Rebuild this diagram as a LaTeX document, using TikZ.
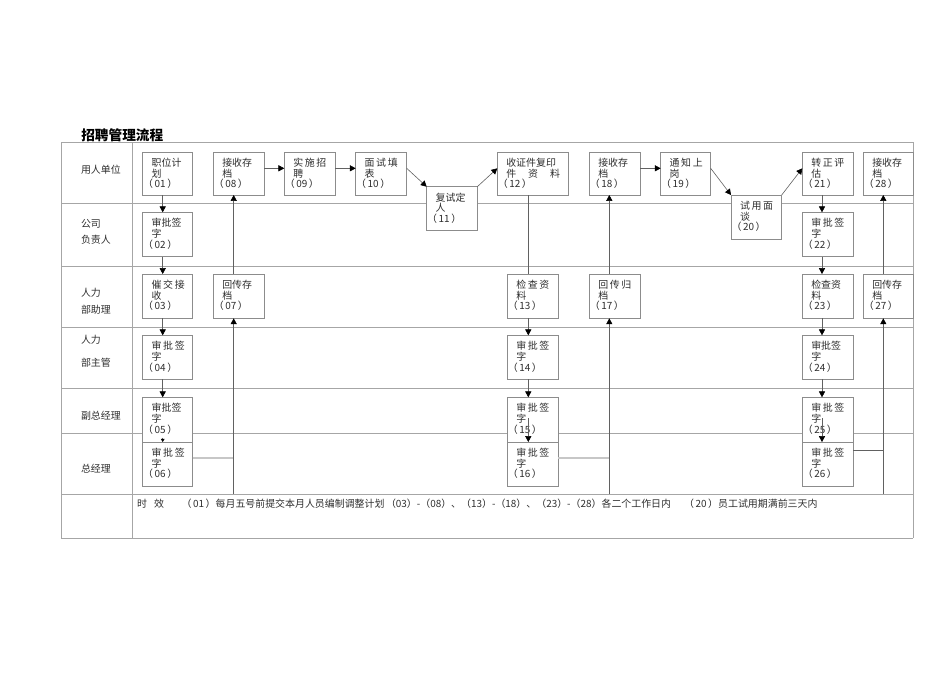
\documentclass[tikz,border=0pt]{standalone}
\usepackage{fontspec}
\setmainfont{Noto Sans CJK SC}
\usetikzlibrary{arrows.meta}
\newcommand\lsp{\hspace{1.2pt}}
\newcommand\pn[1]{（\hspace{1.2pt}#1\hspace{1.2pt}）}
\tikzset{
 gridline/.style={draw=black!35, line width=0.75pt},
 box/.style={draw=black!45, fill=white, line width=0.6pt, inner sep=0pt, outer sep=0pt},
 conn/.style={draw=black!62, line width=0.45pt},
 arr/.style={conn, -{Triangle[length=4.4pt,width=4.6pt,color=black]}},
 sarr/.style={conn, -{Triangle[length=2.4pt,width=2.8pt,color=black]}},
 pale/.style={draw=black!22, line width=1.3pt},
 txt/.style={inner sep=0pt, outer sep=0pt, anchor=west, font=\fontsize{7.45}{9}\selectfont, text=black!82},
}
\newcommand\pbox[8]{%
 \pgfmathsetmacro\bw{(#4-#2)*0.75}\pgfmathsetmacro\bh{(#5-#3)*0.75}%
 \node[box, minimum width=\bw pt, minimum height=\bh pt] (#1) at ({(#2+#4)/2},{(#3+#5)/2}) {};
 \node[txt] (#1a) at ({#2+9},{#3+10.7}) {#6};
 \node[txt] (#1b) at ({#2+9},{#3+21.3}) {#7};
 \node[txt] (#1c) at ({#2+0.5},{#3+32}) {\pn{#8}};
}
\begin{document}
\begin{tikzpicture}[x=0.75pt,y=-0.75pt]
\useasboundingbox (0,0) rectangle (950,672);
% title
\node[anchor=west, inner sep=0pt, font=\fontsize{10.25}{12}\selectfont\bfseries] (title) at (81,135) {招聘管理流程};
% grid
\foreach \yy in {142,203.5,266,327,388,433.5,494,538}
  \draw[gridline] (61,\yy) -- (913,\yy);
\foreach \xx in {61,132.7,913}
  \draw[gridline] (\xx,142) -- (\xx,538);
% lane labels
\node[txt] (l1) at (81,170) {用人单位};
\node[txt] (l2a) at (81,224) {公司};
\node[txt] (l2b) at (81,240) {负责人};
\node[txt] (l3a) at (81,293) {人力};
\node[txt] (l3b) at (81,310) {部助理};
\node[txt] (l4a) at (81,340) {人力};
\node[txt] (l4b) at (81,363) {部主管};
\node[txt] (l5) at (81,416) {副总经理};
\node[txt] (l6) at (81,469) {总经理};
% boxes row 1
\pbox{b01}{142.7}{152}{192.7}{195}{职位计}{划}{01}
\pbox{b08}{213.3}{152}{264}{195}{接收存}{档}{08}
\pbox{b09}{284.3}{152}{335}{195}{实\lsp 施\lsp 招}{聘}{09}
\pbox{b10}{355.7}{152}{406.7}{195}{面\lsp 试\lsp 填}{表}{10}
\pbox{b11}{426.7}{186.7}{477.3}{230}{复试定}{人}{11}
\pbox{b12}{497.3}{152}{568.7}{195}{收证件复印}{件\hspace{9pt}资\hspace{9pt}料}{12}
\pbox{b18}{589.3}{152}{640}{195}{接收存}{档}{18}
\pbox{b19}{660.7}{152}{710.7}{195}{通\lsp 知\lsp 上}{岗}{19}
\pbox{b20}{731}{195}{781.7}{239}{试\lsp 用\lsp 面}{谈}{20}
\pbox{b21}{802.3}{152}{853.3}{195}{转\lsp 正\lsp 评}{估}{21}
\pbox{b28}{863.3}{152}{913}{195}{接收存}{档}{28}
% row 2
\pbox{b02}{142.7}{212.3}{192.7}{256.7}{审批签}{字}{02}
\pbox{b22}{802.3}{212.3}{853.3}{256.7}{审\lsp 批\lsp 签}{字}{22}
% row 3
\pbox{b03}{142.7}{274}{192.7}{318.3}{催\lsp 交\lsp 接}{收}{03}
\pbox{b07}{213.3}{274}{264}{318.3}{回传存}{档}{07}
\pbox{b13}{507.3}{274}{558.3}{318.3}{检\lsp 查\lsp 资}{料}{13}
\pbox{b17}{589.3}{274}{640}{318.3}{回\lsp 传\lsp 归}{档}{17}
\pbox{b23}{802.3}{274}{853.3}{318.3}{检查资}{料}{23}
\pbox{b27}{863.3}{274}{913}{318.3}{回传存}{档}{27}
% row 4
\pbox{b04}{142.7}{335.3}{192.7}{379}{审\lsp 批\lsp 签}{字}{04}
\pbox{b14}{507.3}{335.3}{558.3}{379}{审\lsp 批\lsp 签}{字}{14}
\pbox{b24}{802.3}{335.3}{853.3}{379}{审批签}{字}{24}
% row 5
\pbox{b05}{142.7}{397.3}{192.7}{442}{审批签}{字}{05}
\pbox{b15}{507.3}{397.3}{558.3}{442}{审\lsp 批\lsp 签}{字}{15}
\pbox{b25}{802.3}{397.3}{853.3}{442}{审\lsp 批\lsp 签}{字}{25}
% row 6
\pbox{b06}{142.7}{442}{192.7}{486}{审\lsp 批\lsp 签}{字}{06}
\pbox{b16}{507.3}{442}{558.3}{486}{审\lsp 批\lsp 签}{字}{16}
\pbox{b26}{802.3}{442}{853.3}{486}{审\lsp 批\lsp 签}{字}{26}
% helper coordinates
\coordinate (cA) at (162.7,0);
\coordinate (cB) at (528.3,0);
\coordinate (cC) at (822,0);
\coordinate (hy) at (0,168.3);
\coordinate (s56) at (162.7,437.5);
\coordinate (s1516) at (528.3,418);
\coordinate (s2526) at (822,418);
\coordinate (j1) at (233.7,457.7);
\coordinate (r1) at (233.7,494);
\coordinate (j2) at (609.3,457.7);
\coordinate (r2) at (609.3,494);
\coordinate (j3) at (883.3,450.7);
\coordinate (r3) at (883.3,494);
% column A
\draw[arr] (b01.south -| cA) -- (b02.north -| cA);
\draw[arr] (b02.south -| cA) -- (b03.north -| cA);
\draw[arr] (b03.south -| cA) -- (b04.north -| cA);
\draw[arr] (b04.south -| cA) -- (b05.north -| cA);
\draw[sarr] (s56) -- (b06.north -| cA);
\draw[pale] (j1 -| b06.east) -- (j1);
\draw[arr] (r1) -- (b07.south -| r1);
\draw[arr] (b07.north -| r1) -- (b08.south -| r1);
% top row flow
\draw[arr] (b08.east |- hy) -- (b09.west |- hy);
\draw[arr] (b09.east |- hy) -- (b10.west |- hy);
\draw[arr] (b10.east |- hy) -- (b11.north west);
\draw[arr] (b11.north east) -- (b12.west |- hy);
% column B
\draw[conn] (b12.south -| cB) -- (b13.north -| cB);
\draw[arr] (b13.south -| cB) -- (b14.north -| cB);
\draw[arr] (b14.south -| cB) -- (b15.north -| cB);
\draw[arr] (s1516) -- (b16.north -| cB);
\draw[pale] (j2 -| b16.east) -- (j2);
\draw[arr] (r2) -- (b17.south -| r2);
\draw[arr] (b17.north -| r2) -- (b18.south -| r2);
\draw[arr] (b18.east |- hy) -- (b19.west |- hy);
\draw[arr] (b19.east |- hy) -- (b20.north west);
\draw[arr] (b20.north east) -- (b21.west |- hy);
% column C
\draw[arr] (b21.south -| cC) -- (b22.north -| cC);
\draw[arr] (b22.south -| cC) -- (b23.north -| cC);
\draw[arr] (b23.south -| cC) -- (b24.north -| cC);
\draw[arr] (b24.south -| cC) -- (b25.north -| cC);
\draw[arr] (s2526) -- (b26.north -| cC);
\draw[conn] (j3 -| b26.east) -- (j3);
\draw[arr] (r3) -- (b27.south -| r3);
\draw[arr] (b27.north -| r3) -- (b28.south -| r3);
% footer
\node[txt] (f1) at (137,503.5) {时};
\node[txt] (f2) at (154,503.5) {效};
\node[txt, anchor=east] (f3) at (384.5,503.5) {\pn{01}每月五号前提交本月人员编制调整计划};
\node[txt] (f4) at (386,503.5) {（03）-（08）、（13）-（18）、（23）-（28）各二个工作日内};
\node[txt, anchor=east] (f5) at (817.5,503.5) {\pn{20}员工试用期满前三天内};
\end{tikzpicture}
\end{document}
